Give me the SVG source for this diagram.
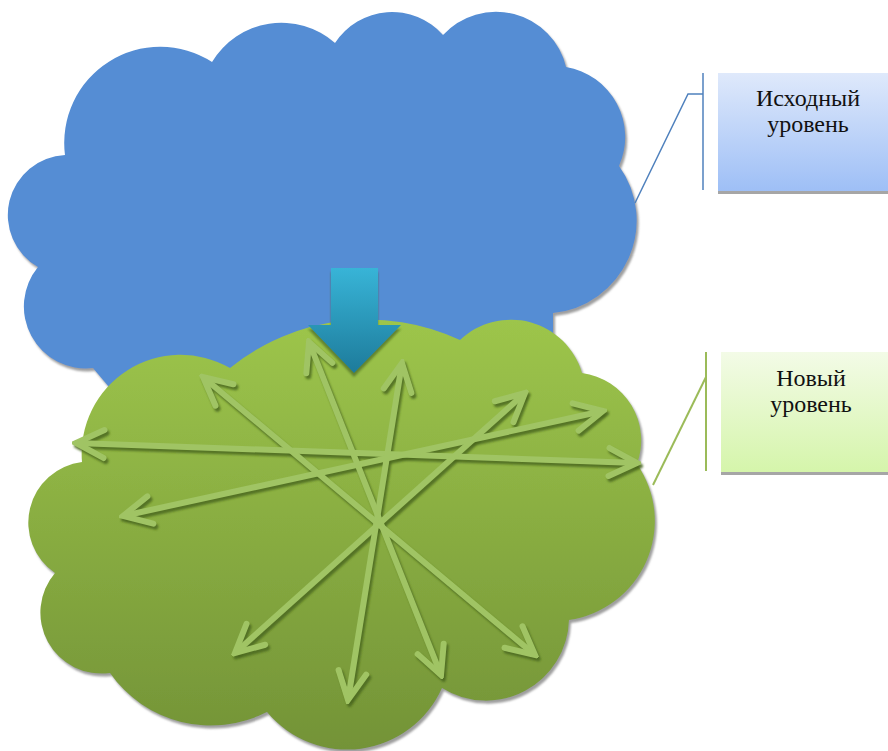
<svg xmlns="http://www.w3.org/2000/svg" width="888" height="751" viewBox="0 0 888 751">
  <style>
    .lbl { font-family: "Liberation Serif", "DejaVu Serif", "Times New Roman", serif; font-size: 24px; fill: #111; text-anchor: middle; }
    .arr { fill: none; stroke: #a0c464; stroke-width: 6; stroke-linecap: butt; }
    .arrs { fill: none; stroke: #4a671f; stroke-width: 6; stroke-opacity: 0.85; stroke-linecap: butt; }
  </style>
  <defs>
    <linearGradient id="gGreen" x1="0" y1="0" x2="0" y2="1">
      <stop offset="0" stop-color="#9dc54b"/>
      <stop offset="1" stop-color="#739337"/>
    </linearGradient>
    <linearGradient id="gTeal" x1="0" y1="0" x2="0" y2="1">
      <stop offset="0" stop-color="#38b4d7"/>
      <stop offset="1" stop-color="#1d7b9b"/>
    </linearGradient>
    <linearGradient id="gBlueBox" x1="0" y1="0" x2="0" y2="1">
      <stop offset="0" stop-color="#dfe9fb"/>
      <stop offset="1" stop-color="#9ebff6"/>
    </linearGradient>
    <linearGradient id="gGreenBox" x1="0" y1="0" x2="0" y2="1">
      <stop offset="0" stop-color="#f3fbe7"/>
      <stop offset="1" stop-color="#d5f5ab"/>
    </linearGradient>
    <filter id="sh" x="-10%" y="-10%" width="125%" height="125%">
      <feDropShadow dx="2" dy="3" stdDeviation="1" flood-color="#7f7f7f" flood-opacity="0.75"/>
    </filter>
    <filter id="blur" x="-5%" y="-5%" width="110%" height="110%">
      <feGaussianBlur stdDeviation="0.8"/>
    </filter>
    <marker id="mL" viewBox="-40 -20 44 40" refX="0" refY="0" markerWidth="44" markerHeight="40" markerUnits="userSpaceOnUse" orient="auto-start-reverse">
      <path d="M -28 -14 L 0 0 L -28 14" fill="none" stroke="#a0c464" stroke-width="6" stroke-linejoin="miter" stroke-linecap="round"/>
    </marker>
    <marker id="mD" viewBox="-40 -20 44 40" refX="0" refY="0" markerWidth="44" markerHeight="40" markerUnits="userSpaceOnUse" orient="auto-start-reverse">
      <path d="M -28 -14 L 0 0 L -28 14" fill="none" stroke="#4a671f" stroke-opacity="0.85" stroke-width="6" stroke-linejoin="miter" stroke-linecap="round"/>
    </marker>
  </defs>

  <rect width="888" height="751" fill="#ffffff"/>

  <g id="cloud-source">
    <path filter="url(#sh)" fill="#548dd4" d="M 65 155 A 96 96 0 0 1 212 62 A 81 81 0 0 1 335 43 A 68 68 0 0 1 443 35 A 72 72 0 0 1 566 67 A 71 71 0 0 1 619 166 A 93 93 0 0 1 553 313 L 553 350 L 120 400 L 93 368 A 62 62 0 0 1 38 267 A 60 60 0 0 1 65 155 Z"/>
  </g>

  <g id="cloud-new">
    <path filter="url(#sh)" fill="url(#gGreen)" d="M 82 462 A 99 99 0 0 1 230 368 A 219 219 0 0 1 460 340 A 74 74 0 0 1 582 373 A 68 68 0 0 1 637 464 A 100 100 0 0 1 569 620 A 83 83 0 0 1 442 688 A 104 104 0 0 1 267 712 A 123 123 0 0 1 110 673 A 61 61 0 0 1 55 573 A 61 61 0 0 1 82 462 Z"/>
  </g>

  <g id="down-arrow">
    <path filter="url(#blur)" d="M 331 272 L 378 272 L 378 329 L 401 329 L 354 377 L 308 329 L 331 329 Z" fill="#3a5a1c" fill-opacity="0.6"/>
    <path d="M 331 268 L 378 268 L 378 325 L 401 325 L 354 373 L 308 325 L 331 325 Z" fill="url(#gTeal)"/>
  </g>

  <g id="connectors">
    <g transform="translate(2,3)" filter="url(#blur)">
      <line class="arrs" x1="76" y1="443" x2="637" y2="463" marker-start="url(#mD)" marker-end="url(#mD)"/>
      <line class="arrs" x1="123" y1="516" x2="603" y2="411" marker-start="url(#mD)" marker-end="url(#mD)"/>
      <line class="arrs" x1="203" y1="377" x2="535" y2="655" marker-start="url(#mD)" marker-end="url(#mD)"/>
      <line class="arrs" x1="309" y1="342" x2="441" y2="675" marker-start="url(#mD)" marker-end="url(#mD)"/>
      <line class="arrs" x1="402" y1="363" x2="348" y2="700" marker-start="url(#mD)" marker-end="url(#mD)"/>
      <line class="arrs" x1="525" y1="393" x2="235" y2="653" marker-start="url(#mD)" marker-end="url(#mD)"/>
    </g>
    <line class="arr" x1="76" y1="443" x2="637" y2="463" marker-start="url(#mL)" marker-end="url(#mL)"/>
    <line class="arr" x1="123" y1="516" x2="603" y2="411" marker-start="url(#mL)" marker-end="url(#mL)"/>
    <line class="arr" x1="203" y1="377" x2="535" y2="655" marker-start="url(#mL)" marker-end="url(#mL)"/>
    <line class="arr" x1="309" y1="342" x2="441" y2="675" marker-start="url(#mL)" marker-end="url(#mL)"/>
    <line class="arr" x1="402" y1="363" x2="348" y2="700" marker-start="url(#mL)" marker-end="url(#mL)"/>
    <line class="arr" x1="525" y1="393" x2="235" y2="653" marker-start="url(#mL)" marker-end="url(#mL)"/>

    <polyline points="703,73 703,190" fill="none" stroke="#4f81bd" stroke-width="1.5"/>
    <polyline points="703,94 688,94 635,203" fill="none" stroke="#4f81bd" stroke-width="1.5"/>
    <polyline points="706,352 706,471" fill="none" stroke="#9bbb59" stroke-width="2"/>
    <polyline points="706,377 653,485" fill="none" stroke="#9bbb59" stroke-width="2"/>
  </g>

  <g id="label-source">
    <rect x="718" y="76" width="175" height="118" fill="#a6a6a6"/>
    <rect x="718" y="73" width="175" height="118" fill="url(#gBlueBox)"/>
    <text class="lbl" x="808" y="106">Исходный</text>
    <text class="lbl" x="808" y="132">уровень</text>
  </g>

  <g id="label-new">
    <rect x="721" y="355" width="172" height="120" fill="#a6a6a6"/>
    <rect x="721" y="352" width="172" height="120" fill="url(#gGreenBox)"/>
    <text class="lbl" x="811" y="386">Новый</text>
    <text class="lbl" x="811" y="412">уровень</text>
  </g>
</svg>
